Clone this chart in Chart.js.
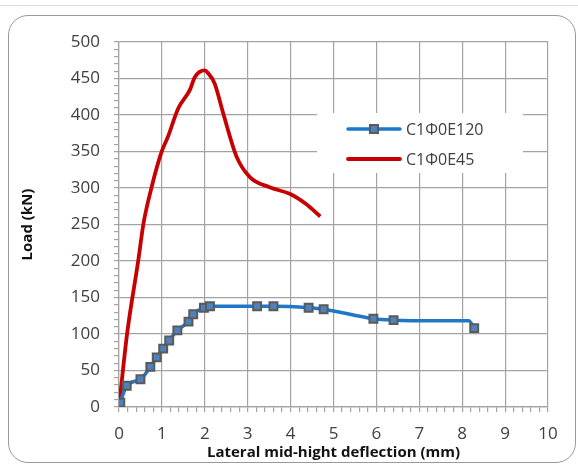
<!DOCTYPE html>
<html>
<head>
<meta charset="utf-8">
<script src="https://cdn.jsdelivr.net/npm/chart.js@4.4.0/dist/chart.umd.min.js"></script>
<style>
  html, body { margin: 0; padding: 0; background: #fff; }
  body { width: 578px; height: 466px; position: relative; overflow: hidden; }
  .topline { position: absolute; left: 0; right: 0; top: 5px; height: 1px; background: #dcdcdc; }
  .frame { position: absolute; left: 8px; top: 15px; width: 566px; height: 446px;
           border: 1.5px solid #9a9a9a; border-radius: 20px; }
  #wrap { position: absolute; left: 0; top: 0; width: 578px; height: 466px; }
</style>
</head>
<body>
<div class="topline"></div>
<div class="frame"></div>
<div id="wrap"><canvas id="chart"></canvas></div>
<script>
  "use strict";

  // Series names
  var seriesNames = ["C1\u03A60E120", "C1\u03A60E45"];

  // C1Φ0E120 - deflection (mm) / load (kN); marker flag 0 = line point only
  var e120X = [0, 0.03, 0.18, 0.5, 0.73, 0.88, 1.03, 1.17, 1.36, 1.62, 1.73, 1.98, 2.12, 3.22, 3.6, 4.42, 4.77, 5.93, 6.4, 7.3, 8.15, 8.28];
  var e120Y = [0, 6, 29, 38, 55, 68, 80, 91, 105, 117, 127, 136, 138, 138, 138, 136, 134, 121, 119, 118, 118, 108];
  var e120Marker = [1, 1, 1, 1, 1, 1, 1, 1, 1, 1, 1, 1, 1, 1, 1, 1, 1, 1, 1, 0, 0, 1];

  // C1Φ0E45 - deflection (mm) / load (kN), smooth line
  var e45X = [0, 0.19, 0.45, 0.57, 0.76, 0.99, 1.14, 1.38, 1.65, 1.77, 2.0, 2.08, 2.23, 2.43, 2.74, 3.05, 3.51, 3.98, 4.36, 4.69];
  var e45Y = [0, 101, 201, 251, 301, 349, 370, 409, 434, 452, 461, 457, 443, 402, 343, 315, 301, 292, 278, 261];

  // Axis ranges
  var xTicks = [0, 10, 0.2, 1];   // min, max, minor step, major step
  var yTicks = [0, 500, 10, 50];

  var gridColor = "#a3a3a3";
  var textColor = "#404040";
  var fontFamily = "'Open Sans', sans-serif";

  function toPoints(xs, ys) {
    return xs.map(function (x, i) { return { x: x, y: ys[i] }; });
  }

  function isMajor(v, step) {
    var q = v / step;
    return Math.abs(q - Math.round(q)) < 1e-6;
  }

  // Legend drawn inside the plot area, over a white box
  var insideLegend = {
    id: "insideLegend",
    beforeDatasetsDraw: function (chart) {
      var ca = chart.chartArea, ctx = chart.ctx;
      ctx.save();
      ctx.fillStyle = "#fff";
      ctx.fillRect(ca.left + 198, ca.top + 71, 206, 60);
      ctx.restore();
    },
    afterDraw: function (chart) {
      var ca = chart.chartArea, ctx = chart.ctx;
      var x0 = ca.left + 229, y0 = ca.top + 87, rowH = 30;
      ctx.save();
      chart.data.datasets.forEach(function (ds, i) {
        var y = y0 + i * rowH;
        ctx.strokeStyle = ds.borderColor;
        ctx.lineWidth = ds.borderWidth;
        ctx.lineCap = "round";
        ctx.beginPath();
        ctx.moveTo(x0, y);
        ctx.lineTo(x0 + 52, y);
        ctx.stroke();
        if (ds.pointStyle === "rect") {
          ctx.fillStyle = ds.pointBackgroundColor;
          ctx.strokeStyle = ds.pointBorderColor;
          ctx.lineWidth = ds.pointBorderWidth;
          ctx.fillRect(x0 + 22, y - 4, 8, 8);
          ctx.strokeRect(x0 + 22, y - 4, 8, 8);
        }
        ctx.fillStyle = textColor;
        ctx.font = "16px " + fontFamily;
        ctx.textBaseline = "middle";
        ctx.textAlign = "left";
        ctx.fillText(ds.label, x0 + 58, y + 1);
      });
      ctx.restore();
    }
  };

  var ctx = document.getElementById("chart").getContext("2d");
  new Chart(ctx, {
    type: "scatter",
    data: {
      datasets: [
        {
          label: seriesNames[0],
          data: toPoints(e120X, e120Y),
          showLine: true,
          borderColor: "#1f77c8",
          borderWidth: 3.5,
          cubicInterpolationMode: "monotone",
          pointStyle: "rect",
          pointRadius: e120Marker.map(function (m) { return m ? 5.6 : 0; }),
          pointBackgroundColor: "#4f81bd",
          pointBorderColor: "#5a5a5a",
          pointBorderWidth: 2
        },
        {
          label: seriesNames[1],
          data: toPoints(e45X, e45Y),
          showLine: true,
          borderColor: "#c80000",
          borderWidth: 3.8,
          cubicInterpolationMode: "monotone",
          pointRadius: 0,
          pointHoverRadius: 0
        }
      ]
    },
    options: {
      responsive: true,
      maintainAspectRatio: false,
      animation: false,
      layout: { padding: { left: 19, top: 42, right: 30, bottom: 4 } },
      plugins: {
        legend: { display: false },
        tooltip: { enabled: false }
      },
      scales: {
        x: {
          type: "linear",
          min: xTicks[0],
          max: xTicks[1],
          afterFit: function (scale) { scale.height = 55; },
          ticks: {
            stepSize: xTicks[2],
            maxTicksLimit: 200,
            autoSkip: false,
            maxRotation: 0,
            padding: 12,
            color: textColor,
            font: { family: fontFamily, size: 17 },
            callback: function (v) { return isMajor(v, xTicks[3]) ? Math.round(v) : ""; }
          },
          grid: {
            color: function (c) { return isMajor(c.tick.value, xTicks[3]) ? gridColor : "transparent"; },
            tickColor: gridColor,
            tickLength: 5,
            lineWidth: 1.2
          },
          border: { color: gridColor, width: 1.2 },
          title: {
            display: true,
            text: "Lateral mid-hight deflection (mm)",
            color: "#111",
            font: { family: fontFamily, size: 15, weight: "bold" },
            padding: { top: 0, bottom: 0 }
          }
        },
        y: {
          type: "linear",
          min: yTicks[0],
          max: yTicks[1],
          afterFit: function (scale) { scale.width = 100; },
          ticks: {
            stepSize: yTicks[2],
            maxTicksLimit: 200,
            autoSkip: false,
            padding: 14,
            color: textColor,
            font: { family: fontFamily, size: 17 },
            callback: function (v) { return isMajor(v, yTicks[3]) ? v : ""; }
          },
          grid: {
            color: function (c) { return isMajor(c.tick.value, yTicks[3]) ? gridColor : "transparent"; },
            tickColor: gridColor,
            tickLength: 5,
            lineWidth: 1.2
          },
          border: { color: gridColor, width: 1.2 },
          title: {
            display: true,
            text: "Load (kN)",
            color: "#111",
            font: { family: fontFamily, size: 15, weight: "bold" },
            padding: { top: 0, bottom: 0 }
          }
        }
      }
    },
    plugins: [insideLegend]
  });
</script>
</body>
</html>
